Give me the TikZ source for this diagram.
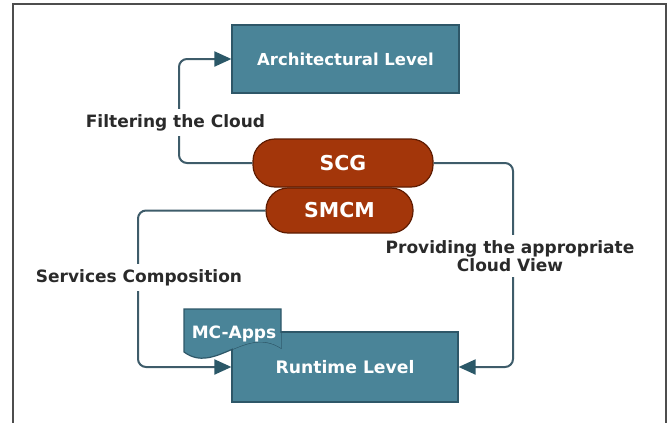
\documentclass[tikz,border=0pt]{standalone}
\usepackage{fontspec}
\setmainfont{DejaVu Sans}
\usetikzlibrary{arrows.meta}
\definecolor{boxfill}{HTML}{4A8498}
\definecolor{boxline}{HTML}{2E5768}
\definecolor{pillfill}{HTML}{A3360A}
\definecolor{pillline}{HTML}{5E1C02}
\definecolor{conncol}{HTML}{3E5C6A}
\definecolor{tipcol}{HTML}{2B5868}
\definecolor{labcol}{HTML}{2A2A2A}
\definecolor{framecol}{HTML}{4D4D4D}
\begin{document}
\begin{tikzpicture}[x=1pt,y=-1pt,
 levelbox/.style={draw=boxline,fill=boxfill,line width=1.2pt,text=white,font=\bfseries\fontsize{16.5}{18}\selectfont,inner sep=0pt},
 pill/.style={draw=pillline,fill=pillfill,line width=1.2pt,rounded corners=22pt,text=white,font=\bfseries\fontsize{20.5}{22}\selectfont,inner sep=0pt},
 conn/.style={draw=conncol,line width=2pt,rounded corners=8pt},
 tip/.style={-{Triangle[length=17pt,width=15pt,color=tipcol]}},
 lab/.style={text=labcol,font=\bfseries\fontsize{17}{18}\selectfont,fill=white,inner xsep=2pt,inner ysep=5pt,align=center}]
\useasboundingbox (0,0) rectangle (672,423);
% frame
\draw[framecol,line width=2pt] (13,423) -- (13,4) -- (666,4) -- (666,423);
% level boxes
\node[levelbox,minimum width=227pt,minimum height=68pt] (arch) at (345.5,59) {Architectural Level};
\node[levelbox,minimum width=226pt,minimum height=70pt,font=\bfseries\fontsize{17.2}{18}\selectfont] (run) at (345,367) {Runtime Level};
% MC-Apps document shape
\path[fill=boxfill,draw=boxline,line width=1.2pt] (184,309) -- (281,309) -- (281,348) .. controls (245,325) and (215,375) .. (184,352) -- cycle;
\begin{scope}
\clip (233,333) rectangle (457.5,401);
\fill[boxfill] (184,309) -- (281,309) -- (281,348) .. controls (245,325) and (215,375) .. (184,352) -- cycle;
\end{scope}
\node[text=white,font=\bfseries\fontsize{17}{18}\selectfont,anchor=base,inner sep=0pt] (mcapps) at (234,338) {MC-Apps};
% pills
\node[pill,minimum width=147pt,minimum height=45pt] (smcm) at (339.5,210.5) {SMCM};
\node[pill,minimum width=180pt,minimum height=48pt] (scg) at (343,163) {SCG};
% connectors
\coordinate (fl) at (179,0);
\coordinate (sc) at (138,0);
\coordinate (pv) at (513,0);
\draw[conn,tip] (scg.west) -| (fl |- arch.west) -- (arch.west);
\draw[conn,tip] (smcm.west) -| (sc |- run.west) -- (run.west);
\draw[conn,tip] (scg.east) -| (pv |- run.east) -- (run.east);
% labels
\node[lab] (filt) at (175.5,122.5) {Filtering the Cloud};
\node[lab] (serv) at (139,277.5) {Services Composition};
\node[lab] (prov) at (510,256) {Providing the appropriate\\Cloud View};
\end{tikzpicture}
\end{document}
